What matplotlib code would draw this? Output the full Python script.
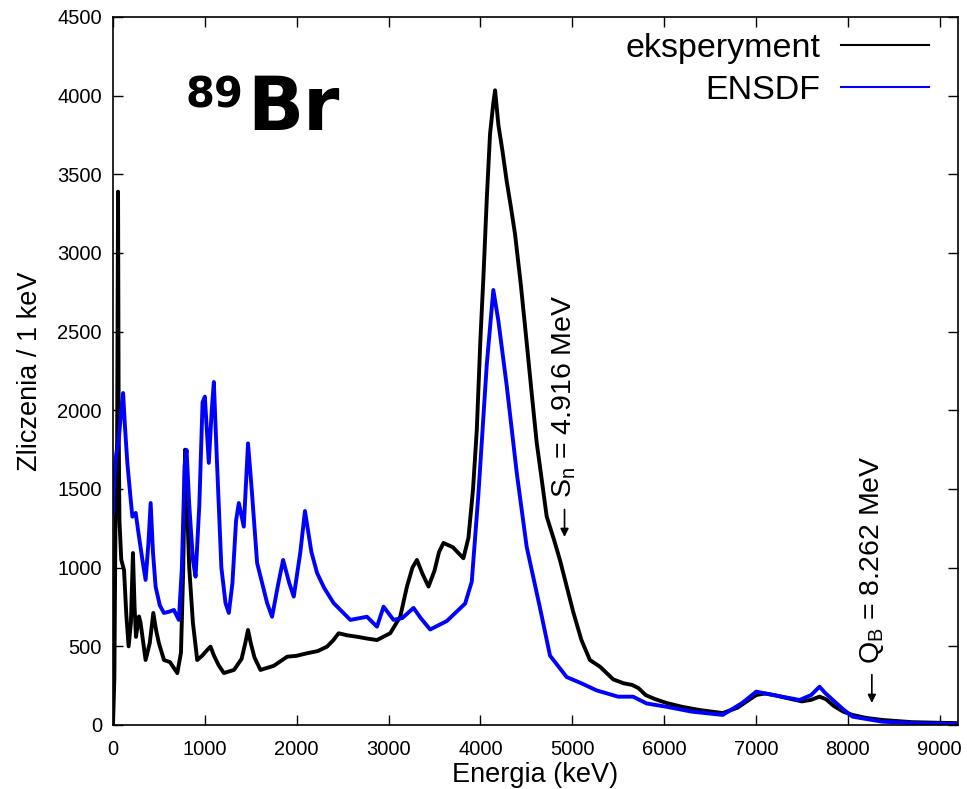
import matplotlib
matplotlib.use('Agg')
import matplotlib.pyplot as plt
from matplotlib.lines import Line2D

plt.rcParams['font.family'] = ['Liberation Sans', 'DejaVu Sans']
plt.rcParams['mathtext.fontset'] = 'custom'
plt.rcParams['mathtext.rm'] = 'Liberation Sans'
plt.rcParams['mathtext.it'] = 'Liberation Sans:italic'

# beta-delayed gamma spectrum, 89Br: measured vs ENSDF (counts per 1 keV)
exp_energy = [0, 15, 30, 45, 55, 62, 70, 90, 120, 145, 170, 195, 217, 235, 250,
              283, 300, 330, 355, 400, 439, 470, 500, 555, 620, 700, 740, 765,
              785, 800, 830, 870, 917, 970, 1026, 1062, 1100, 1150, 1207, 1317,
              1400, 1440, 1470, 1500, 1540, 1605, 1750, 1896, 2000, 2113, 2230,
              2330, 2400, 2457, 2550, 2657, 2760, 2874, 3018, 3127, 3200, 3260,
              3309, 3370, 3435, 3500, 3550, 3598, 3700, 3815, 3870, 3920, 3961,
              4000, 4033, 4070, 4105, 4140, 4160, 4196, 4240, 4287, 4330, 4377,
              4440, 4504, 4560, 4613, 4670, 4722, 4800, 4866, 4940, 5011, 5100,
              5192, 5301, 5446, 5560, 5650, 5720, 5800, 5900, 6026, 6200, 6388,
              6638, 6800, 6900, 7004, 7100, 7200, 7330, 7500, 7600, 7692, 7760,
              7850, 7950, 8052, 8200, 8377, 8700, 9000, 9200]
exp_counts = [0, 300, 1550, 1800, 3390, 1900, 1300, 1050, 985, 700, 500, 650, 1093,
              750, 560, 690, 650, 520, 413, 520, 712, 600, 520, 413, 400, 330,
              460, 1000, 1750, 1500, 1000, 650, 413, 440, 477, 498, 440, 380,
              330, 350, 420, 520, 604, 520, 430, 350, 376, 434, 440, 456, 470,
              498, 540, 583, 570, 561, 550, 540, 583, 688, 879, 1000, 1049, 960,
              880, 980, 1100, 1157, 1130, 1060, 1190, 1500, 1878, 2450, 2848,
              3350, 3757, 3950, 4034, 3814, 3650, 3454, 3300, 3121, 2800, 2431,
              2100, 1795, 1550, 1325, 1180, 1049, 880, 718, 540, 413, 371, 290,
              265, 255, 235, 190, 165, 140, 115, 95, 76, 110, 150, 191, 200, 190,
              172, 150, 160, 180, 165, 120, 85, 64, 45, 32, 18, 14, 12]

ensdf_energy = [0, 5, 15, 30, 62, 90, 110, 130, 156, 190, 211, 247, 283, 320, 355,
                385, 410, 435, 464, 510, 555, 610, 663, 717, 750, 780, 801, 830,
                870, 899, 940, 975, 1000, 1043, 1075, 1098, 1130, 1180, 1225,
                1261, 1300, 1340, 1370, 1424, 1470, 1510, 1569, 1678, 1732, 1800,
                1852, 1920, 1968, 2040, 2090, 2160, 2222, 2300, 2402, 2584, 2765,
                2874, 2946, 3054, 3150, 3272, 3350, 3453, 3635, 3834, 3906, 3978,
                4070, 4141, 4196, 4287, 4396, 4504, 4649, 4758, 4939, 5100, 5265,
                5500, 5663, 5809, 6026, 6300, 6638, 6850, 7004, 7185, 7475, 7600,
                7692, 7760, 7837, 7950, 8052, 8377, 8800, 9200]
ensdf_counts = [1350, 1450, 1600, 1700, 1812, 2000, 2110, 1900, 1666, 1450, 1324,
                1348, 1197, 1050, 922, 1150, 1411, 1100, 879, 760, 712, 720, 731,
                668, 1000, 1650, 1748, 1400, 1050, 943, 1400, 2050, 2087, 1666,
                2000, 2180, 1700, 1000, 775, 712, 900, 1300, 1411, 1261, 1790,
                1500, 1030, 775, 688, 900, 1049, 900, 816, 1100, 1360, 1100, 966,
                870, 775, 668, 688, 625, 752, 668, 680, 744, 680, 607, 661, 772,
                911, 1463, 2295, 2765, 2568, 2155, 1602, 1132, 744, 441, 305, 265,
                220, 180, 180, 137, 116, 85, 64, 140, 212, 191, 159, 190, 243, 200,
                159, 100, 53, 21, 10, 6]

x_ticks = [0, 1000, 2000, 3000, 4000, 5000, 6000, 7000, 8000, 9000]
y_ticks = [0, 500, 1000, 1500, 2000, 2500, 3000, 3500, 4000, 4500]

s_n = 4916      # keV
q_beta = 8262   # keV

fig = plt.figure(figsize=(9.67, 7.89), dpi=100)
ax = fig.add_axes([113 / 967, 1 - 725 / 789, 845 / 967, 708 / 789])

ax.plot(exp_energy, exp_counts, color='black', lw=2.8)
ax.plot(ensdf_energy, ensdf_counts, color='#0000ff', lw=2.8)

ax.set_xlim(0, 9200)
ax.set_ylim(0, 4500)
ax.set_xticks(x_ticks)
ax.set_yticks(y_ticks)
ax.tick_params(direction='in', length=7, width=1, top=True, right=True,
               labelsize=14.5, colors='black')
ax.tick_params(axis='x', pad=11)
ax.tick_params(axis='y', pad=8)
for sp in ax.spines.values():
    sp.set_linewidth(1.2)

ax.set_xlabel('Energia (keV)', fontsize=19.5)
ax.xaxis.set_label_coords(0.5, -0.052)
ax.set_ylabel('Zliczenia / 1 keV', fontsize=19.5, labelpad=10)

handles = [Line2D([], [], color='black', lw=1.5),
           Line2D([], [], color='#0000ff', lw=1.5)]
ax.legend(handles, ['eksperyment', 'ENSDF'], loc='upper right',
          bbox_to_anchor=(0.966, 0.977), frameon=False, markerfirst=False,
          fontsize=24.5, handlelength=2.6, handletextpad=0.6,
          labelspacing=0.32, borderpad=0, borderaxespad=0)

# isotope label
fig.text(186 / 967, 1 - 107 / 789, '89', fontsize=30, fontweight='bold',
         family='DejaVu Sans', ha='left', va='baseline')
fig.text(247 / 967, 1 - 130 / 789, 'Br', fontsize=53, fontweight='bold',
         family='DejaVu Sans', ha='left', va='baseline')

# separation energy and Q-value markers: short down arrow plus rotated label
arrow = dict(arrowstyle='-|>', color='black', lw=1.2, mutation_scale=12,
             shrinkA=0, shrinkB=0)
ax.annotate('', xy=(s_n, 1195), xytext=(s_n, 1370), arrowprops=arrow)
ax.text(s_n, 1440, r'$\mathregular{S_n}$ = 4.916 MeV',
        rotation=90, ha='center', va='bottom', fontsize=20.5)
ax.annotate('', xy=(q_beta, 140), xytext=(q_beta, 320), arrowprops=arrow)
ax.text(q_beta, 390, r'$\mathregular{Q_B}$ = 8.262 MeV',
        rotation=90, ha='center', va='bottom', fontsize=20.5)

fig.savefig('out.png', dpi=100)
